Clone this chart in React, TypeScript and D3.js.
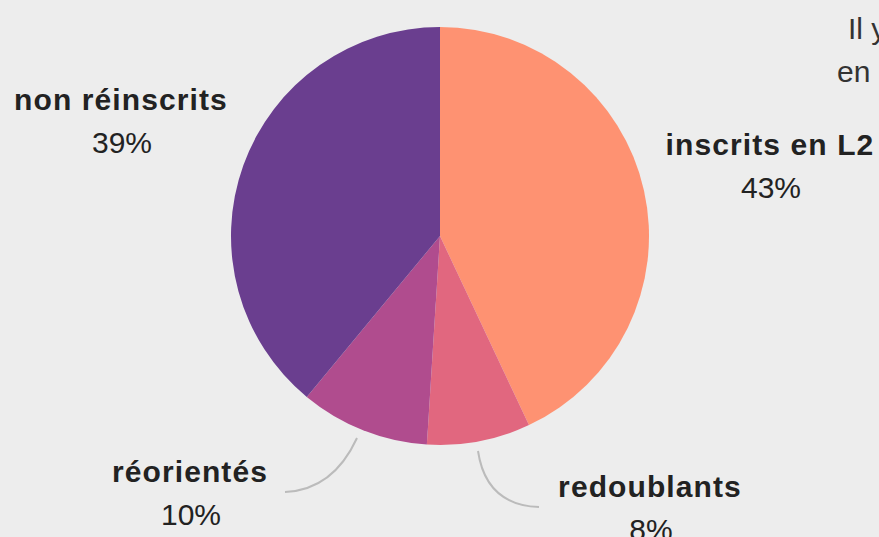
import React, { useEffect, useRef } from "react";
import * as d3 from "d3";

const categories = ["inscrits en L2", "redoublants", "réorientés", "non réinscrits"];
const values = [43, 8, 10, 39];
const colors = ["#fe9272", "#e1677f", "#b04c8e", "#6a3e8f"];

const WIDTH = 879;
const HEIGHT = 537;

// label anchor positions (centre of the bold name line)
const labelPos = [
  { x: 770, y: 155 },
  { x: 650, y: 497 },
  { x: 190, y: 482 },
  { x: 121, y: 110 },
];

const App = () => {
  const svgRef = useRef<SVGSVGElement>(null);

  useEffect(() => {
    const svg = d3.select(svgRef.current).attr("width", WIDTH).attr("height", HEIGHT);
    svg.selectAll("*").remove();

    svg.append("rect").attr("width", WIDTH).attr("height", HEIGHT).attr("fill", "#ededed");

    const cx = 440;
    const cy = 236;
    const r = 209;

    const pie = d3.pie<number>().sort(null).value((d) => d);
    const arc = d3.arc<d3.PieArcDatum<number>>().innerRadius(0).outerRadius(r);

    const g = svg.append("g").attr("transform", `translate(${cx},${cy})`);
    g.selectAll("path")
      .data(pie(values))
      .join("path")
      .attr("d", arc)
      .attr("fill", (d, i) => colors[i]);

    // leader curves for the small slices
    const leaders = [
      "M478,451 Q486,505 539,507",
      "M357,438 Q333,490 285,492",
    ];
    svg
      .selectAll("path.leader")
      .data(leaders)
      .join("path")
      .attr("class", "leader")
      .attr("d", (d) => d)
      .attr("fill", "none")
      .attr("stroke", "#bbbbbb")
      .attr("stroke-width", 2);

    const labels = svg.append("g").attr("font-family", "Liberation Sans, Arial, sans-serif");
    categories.forEach((c, i) => {
      const p = labelPos[i];
      labels
        .append("text")
        .attr("x", p.x)
        .attr("y", p.y)
        .attr("text-anchor", "middle")
        .attr("font-size", 30)
        .attr("font-weight", "bold")
        .attr("letter-spacing", 1.1)
        .attr("fill", "#222")
        .text(c);
      labels
        .append("text")
        .attr("x", p.x + 1)
        .attr("y", p.y + 43)
        .attr("text-anchor", "middle")
        .attr("font-size", 30)
        .attr("fill", "#222")
        .text(`${values[i]}%`);
    });

    // cut-off caption at the top right
    labels
      .append("text")
      .attr("x", 848)
      .attr("y", 39)
      .attr("font-size", 30)
      .attr("fill", "#333")
      .text("Il y");
    labels
      .append("text")
      .attr("x", 837)
      .attr("y", 82)
      .attr("font-size", 30)
      .attr("fill", "#333")
      .text("en");
  }, []);

  return (
    <svg ref={svgRef} style={{ position: "absolute", left: 0, top: 0 }}></svg>
  );
};

export default App;
